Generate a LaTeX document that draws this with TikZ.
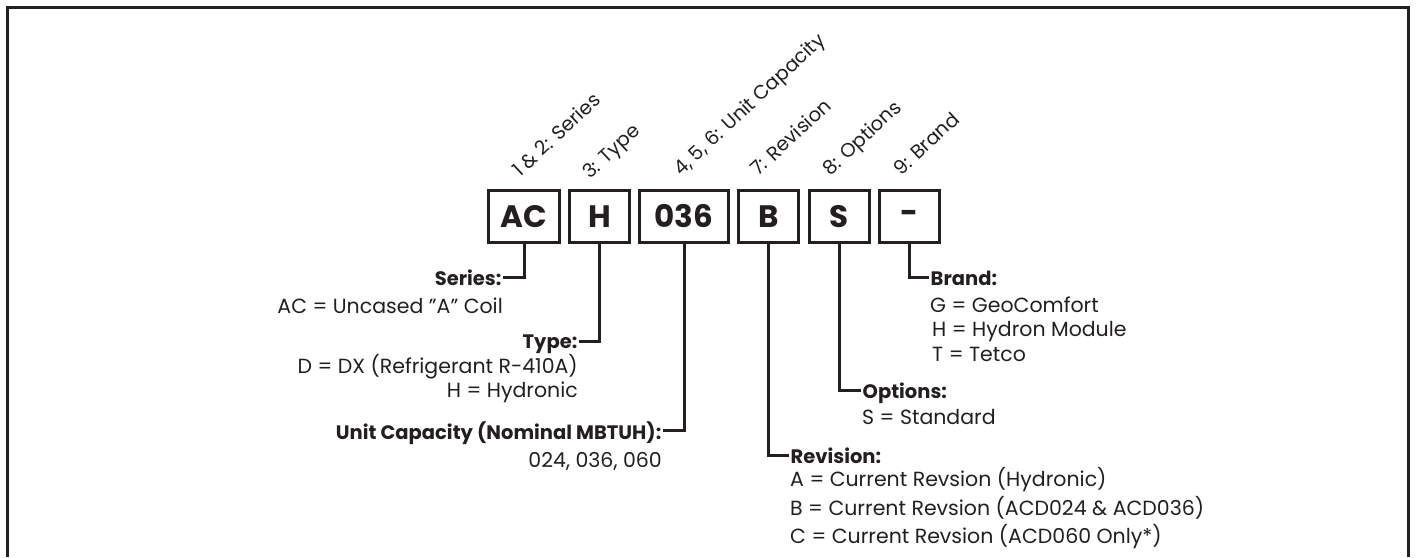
\documentclass[tikz,border=0pt]{standalone}
\usepackage{fontspec}
\setmainfont{Poppins}
\definecolor{ink}{RGB}{35,31,32}
\begin{document}
\begin{tikzpicture}[x=1pt,y=-1pt,
  codebox/.style={draw=ink,line width=3pt,minimum height=52pt,inner sep=0pt,
    font=\fontsize{31}{31}\selectfont\bfseries,text=ink},
  poslabel/.style={anchor=base west,rotate=43,inner sep=0pt,
    font=\fontsize{19.5}{19.5}\selectfont,text=ink},
  head/.style={inner sep=1.5pt,text depth=0pt,font=\fontsize{19.5}{19.5}\selectfont\bfseries,text=ink},
  item/.style={inner sep=0pt,font=\fontsize{20.5}{20.5}\selectfont,text=ink},
  leader/.style={draw=ink,line width=3pt}]
\useasboundingbox (0,0) rectangle (1416,557);
\draw[line width=3pt,ink] (7,557) -- (7,7) -- (1408,7) -- (1408,557);
% code boxes
\node[codebox,minimum width=71pt] (bAC) at (524,216.5) {AC};
\node[codebox,minimum width=60pt] (bH) at (599.5,216.5) {H};
\node[codebox,minimum width=89pt] (b036) at (684,216.5) {036};
\node[codebox,minimum width=60pt] (bB) at (768.5,216.5) {B};
\node[codebox,minimum width=60pt] (bS) at (839.5,216.5) {S};
\node[codebox,minimum width=60pt] (bD) at (909.5,216.5) {-};
% position labels
\node[poslabel] (p1) at (520,178) {1 \& 2: Series};
\node[poslabel] (p2) at (590,180) {3: Type};
\node[poslabel] (p3) at (681,177) {4, 5, 6: Unit Capacity};
\node[poslabel] (p4) at (758,177) {7: Revision};
\node[poslabel] (p5) at (830,177) {8: Options};
\node[poslabel] (p6) at (901,177) {9: Brand};
% left descriptions
\node[head,anchor=base east] (hSeries) at (503,285) {Series:};
\node[item,anchor=base east] (tSeries) at (503,313) {AC = Uncased "A" Coil};
\node[head,anchor=base east] (hType) at (579,348) {Type:};
\node[item,anchor=base east] (tType1) at (578,373) {D = DX (Refrigerant R-410A)};
\node[item,anchor=base east] (tType2) at (578,397) {H = Hydronic};
\node[head,anchor=base east] (hCap) at (663,439) {Unit Capacity (Nominal MBTUH):};
\node[item,anchor=base east] (tCap) at (662,467) {024, 036, 060};
% right descriptions
\node[head,anchor=base west] (hBrand) at (929,285) {Brand:};
\node[item,anchor=base west] (tBrand1) at (930,312) {G = GeoComfort};
\node[item,anchor=base west] (tBrand2) at (932,336) {H = Hydron Module};
\node[item,anchor=base west] (tBrand3) at (932,361) {T = Tetco};
\node[head,anchor=base west] (hOpt) at (861,398) {Options:};
\node[item,anchor=base west] (tOpt) at (862,424) {S = Standard};
\node[head,anchor=base west] (hRev) at (789,463) {Revision:};
\node[item,anchor=base west] (tRev1) at (790,486) {A = Current Revsion (Hydronic)};
\node[item,anchor=base west] (tRev2) at (790,515) {B = Current Revsion (ACD024 \& ACD036)};
\node[item,anchor=base west] (tRev3) at (790,543) {C = Current Revsion (ACD060 Only*)};
% leaders
\draw[leader] (bAC.south) |- (hSeries.east);
\draw[leader] (bH.south) |- (hType.east);
\draw[leader] (b036.south) |- (hCap.east);
\draw[leader] (bB.south) |- (hRev.west);
\draw[leader] (bS.south) |- (hOpt.west);
\draw[leader] (bD.south) |- (hBrand.west);
\end{tikzpicture}
\end{document}
